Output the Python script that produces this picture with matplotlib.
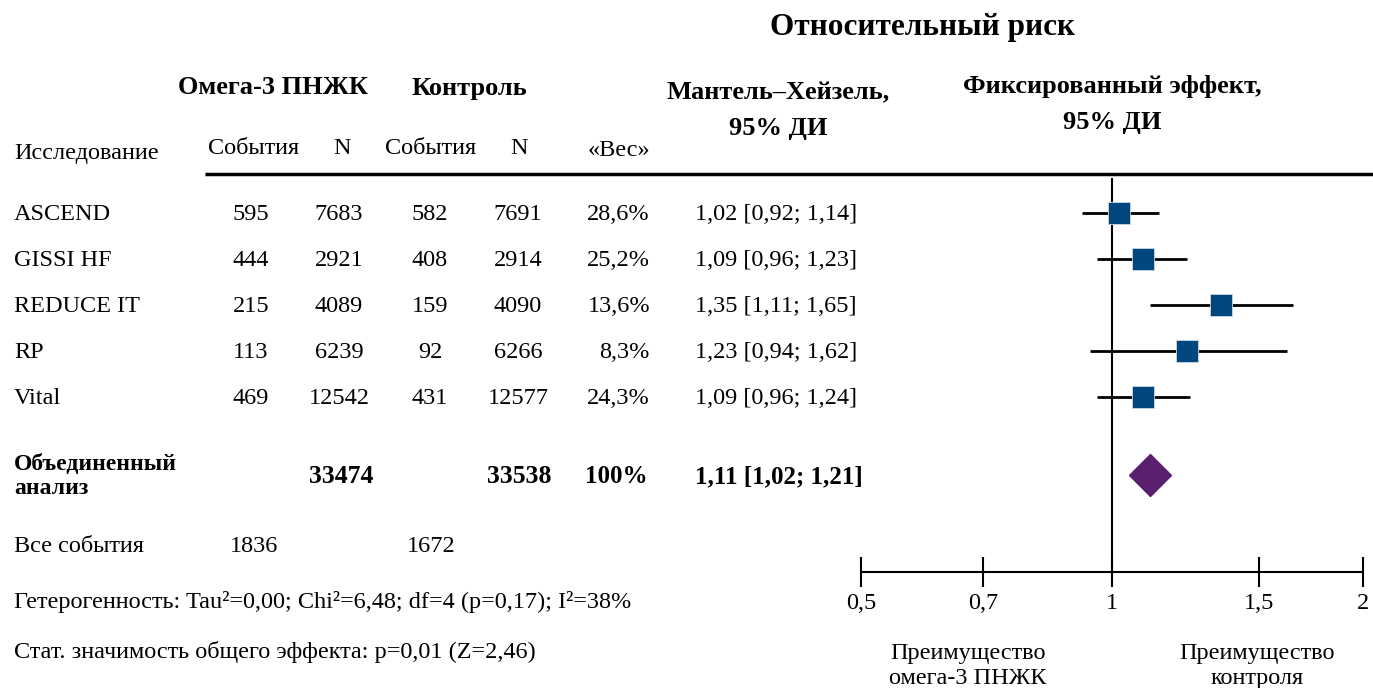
import matplotlib
matplotlib.use('Agg')
import matplotlib.pyplot as plt
from matplotlib.ticker import FixedLocator, NullLocator

plt.rcParams['font.family'] = ['Liberation Serif', 'DejaVu Serif']

# данные
studies = ['ASCEND', 'GISSI HF', 'REDUCE IT', 'RP', 'Vital']
ev_omega = [595, 444, 215, 113, 469]
n_omega = [7683, 2921, 4089, 6239, 12542]
ev_ctrl = [582, 408, 159, 92, 431]
n_ctrl = [7691, 2914, 4090, 6266, 12577]
weights = ['28,6%', '25,2%', '13,6%', '8,3%', '24,3%']
rr = [1.02, 1.09, 1.35, 1.23, 1.09]
lo = [0.92, 0.96, 1.11, 0.94, 0.96]
hi = [1.14, 1.23, 1.65, 1.62, 1.24]
pooled_rr, pooled_lo, pooled_hi = 1.11, 1.02, 1.21
total_n_omega, total_n_ctrl = 33474, 33538
total_ev_omega, total_ev_ctrl = 1836, 1672
ticks = [0.5, 0.7, 1, 1.5, 2]
tick_labels = ['0,5', '0,7', '1', '1,5', '2']

def fmt(v):
    return f'{v:.2f}'.replace('.', ',')

W, H = 1373, 688
fig = plt.figure(figsize=(W / 100, H / 100), dpi=100)
ax = fig.add_axes([0, 0, 1, 1])
ax.set_xlim(0, W)
ax.set_ylim(H, 0)
ax.axis('off')

fs = 17.5
hs = 19   # заголовки
row_y = [213, 259, 305, 351, 397]
pool_y = 475
ty = 1.5  # небольшой сдвиг текста вниз

# заголовки
ax.text(922, 28, 'Относительный риск', ha='center', va='center', fontsize=22.5, fontweight='bold')
ax.text(273, 88, 'Омега-3 ПНЖК', ha='center', va='center', fontsize=hs, fontweight='bold')
ax.text(469, 88, 'Контроль', ha='center', va='center', fontsize=hs, fontweight='bold')
ax.text(778, 93, 'Мантель–Хейзель,', ha='center', va='center', fontsize=hs, fontweight='bold')
ax.text(778, 128, '95% ДИ', ha='center', va='center', fontsize=hs, fontweight='bold')
ax.text(1112, 87, 'Фиксированный эффект,', ha='center', va='center', fontsize=hs, fontweight='bold')
ax.text(1112, 122, '95% ДИ', ha='center', va='center', fontsize=hs, fontweight='bold')
ax.text(14, 153, 'Исследование', ha='left', va='center', fontsize=fs)
for x, s in [(254, 'События'), (342, 'N'), (431, 'События'), (519, 'N'), (619, '«Вес»')]:
    ax.text(x, 148 if s != '«Вес»' else 151, s, ha='center', va='center', fontsize=fs)
ax.plot([205, W], [174, 174], color='black', lw=2.5, solid_capstyle='butt')

# строки исследований
for i, y in enumerate(row_y):
    yt = y + ty
    ax.text(14, yt, studies[i], ha='left', va='center', fontsize=fs)
    ax.text(251, yt, str(ev_omega[i]), ha='center', va='center', fontsize=fs)
    ax.text(339, yt, str(n_omega[i]), ha='center', va='center', fontsize=fs)
    ax.text(430, yt, str(ev_ctrl[i]), ha='center', va='center', fontsize=fs)
    ax.text(518, yt, str(n_ctrl[i]), ha='center', va='center', fontsize=fs)
    ax.text(650, yt, weights[i], ha='right', va='center', fontsize=fs)
    ax.text(695, yt, f'{fmt(rr[i])} [{fmt(lo[i])}; {fmt(hi[i])}]', ha='left', va='center', fontsize=fs)

# объединенный анализ
ax.text(14, 465, 'Объединенный', ha='left', va='center', fontsize=17, fontweight='bold')
ax.text(14, 489, 'анализ', ha='left', va='center', fontsize=17, fontweight='bold')
ax.text(341, pool_y + ty, str(total_n_omega), ha='center', va='center', fontsize=18.5, fontweight='bold')
ax.text(519, pool_y + ty, str(total_n_ctrl), ha='center', va='center', fontsize=18.5, fontweight='bold')
ax.text(648, pool_y + ty, '100%', ha='right', va='center', fontsize=18, fontweight='bold')
ax.text(695, pool_y + ty, f'{fmt(pooled_rr)} [{fmt(pooled_lo)}; {fmt(pooled_hi)}]',
        ha='left', va='center', fontsize=18, fontweight='bold')

ax.text(14, 546, 'Все события', ha='left', va='center', fontsize=fs)
ax.text(254, 546, str(total_ev_omega), ha='center', va='center', fontsize=fs)
ax.text(431, 546, str(total_ev_ctrl), ha='center', va='center', fontsize=fs)

ax.text(14, 602, 'Гетерогенность: Tau²=0,00; Chi²=6,48; df=4 (p=0,17); I²=38%',
        ha='left', va='center', fontsize=fs)
ax.text(14, 652, 'Стат. значимость общего эффекта: p=0,01 (Z=2,46)', ha='left', va='center', fontsize=fs)

ax.text(968, 666, 'Преимущество\nомега-3 ПНЖК', ha='center', va='center', fontsize=fs, linespacing=1.25)
ax.text(1257, 666, 'Преимущество\nконтроля', ha='center', va='center', fontsize=fs, linespacing=1.25)

# лесной график
fx0, fx1 = 861, 1363
fa = fig.add_axes([fx0 / W, 0, (fx1 - fx0) / W, 1])
fa.set_xscale('log')
fa.set_xlim(0.5, 2)
fa.set_ylim(H, 0)
fa.patch.set_alpha(0)
for s in ['top', 'left', 'right']:
    fa.spines[s].set_visible(False)
fa.spines['bottom'].set_position(('data', 572))
fa.spines['bottom'].set_linewidth(1.5)
fa.xaxis.set_major_locator(FixedLocator(ticks))
fa.xaxis.set_minor_locator(NullLocator())
fa.set_xticklabels(tick_labels, fontsize=fs)
fa.tick_params(axis='x', direction='inout', length=22, width=1.5, pad=4)
fa.set_yticks([])

fa.vlines(1, 178, 572, color='black', lw=1.5)
for i, y in enumerate(row_y):
    fa.plot([lo[i], hi[i]], [y, y], color='black', lw=2, solid_capstyle='butt', zorder=2)
    fa.plot(rr[i], y, marker='s', ms=16, color='#00467f', mec='#c8d8e8', mew=0.6, zorder=3)
fa.plot(pooled_rr, pool_y, marker='D', ms=21, color='#5a1f6e', mec='#5a1f6e', zorder=3)

fig.savefig('out.png', dpi=100)
